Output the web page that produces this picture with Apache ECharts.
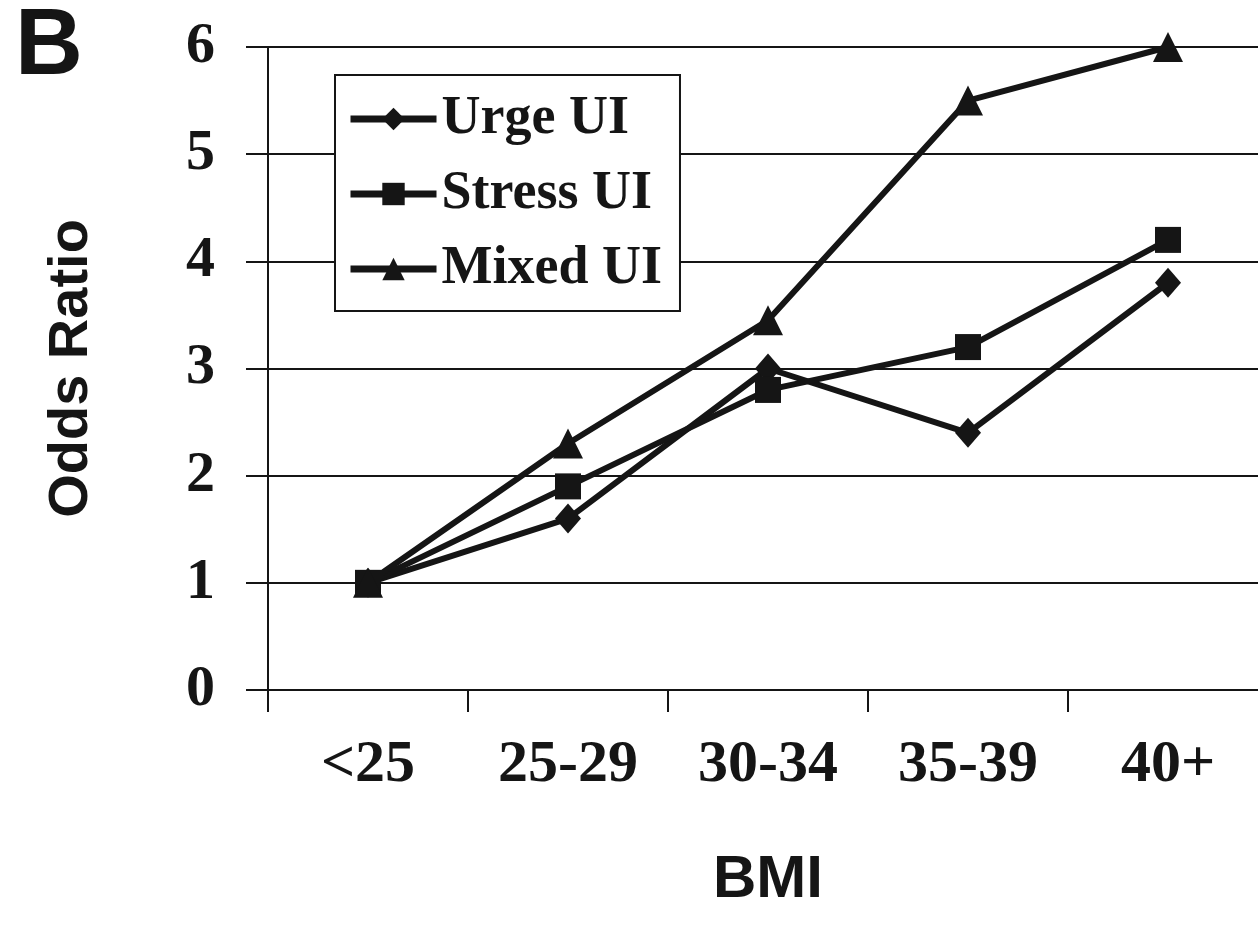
<!DOCTYPE html>
<html>
<head>
<meta charset="utf-8">
<script src="https://cdn.jsdelivr.net/npm/echarts@6/dist/echarts.min.js"></script>
<style>
  html, body { margin: 0; padding: 0; background: #fff; }
  #chart { width: 1258px; height: 937px; }
</style>
</head>
<body>
<div id="chart"></div>
<script>
const categories = ['<25', '25-29', '30-34', '35-39', '40+'];
const urgeUI = [1, 1.6, 3.0, 2.4, 3.8];
const stressUI = [1, 1.9, 2.8, 3.2, 4.2];
const mixedUI = [1, 2.3, 3.45, 5.5, 6.0];

const serif = 'Liberation Serif';
const sans = 'Liberation Sans';
const ink = '#151515';

const chart = echarts.init(document.getElementById('chart'));

function lineSeries(name, data, symbol, size) {
  return {
    name: name,
    type: 'line',
    data: data,
    symbol: symbol,
    symbolSize: size,
    showSymbol: true,
    lineStyle: { color: ink, width: 6 },
    itemStyle: { color: ink, borderWidth: 0 },
    emphasis: { disabled: true },
    z: 5
  };
}

chart.setOption({
  animation: false,
  backgroundColor: '#fff',
  title: {
    text: 'B',
    left: 10,
    top: -4,
    textStyle: { fontFamily: sans, fontWeight: 'bold', fontSize: 94, color: ink }
  },
  legend: {
    orient: 'vertical',
    left: 335,
    top: 75,
    padding: [16, 18, 14, 12],
    itemWidth: 86,
    itemHeight: 28,
    itemGap: 19,
    borderColor: ink,
    borderWidth: 2,
    backgroundColor: '#fff',
    lineStyle: { color: ink, width: 7 },
    textStyle: { fontFamily: serif, fontWeight: 'bold', fontSize: 54, color: ink, lineHeight: 56 },
    data: ['Urge UI', 'Stress UI', 'Mixed UI']
  },
  grid: { left: 268, top: 47, width: 1000, height: 643, containLabel: false, outerBoundsMode: 'none' },
  xAxis: {
    type: 'category',
    data: categories,
    boundaryGap: true,
    name: 'BMI',
    nameLocation: 'middle',
    nameGap: 160,
    nameTextStyle: { fontFamily: sans, fontWeight: 'bold', fontSize: 60, color: ink },
    axisLine: { lineStyle: { color: ink, width: 2 } },
    axisTick: { show: true, length: 22, lineStyle: { color: ink, width: 2 } },
    axisLabel: { margin: 45, fontFamily: serif, fontWeight: 'bold', fontSize: 60, color: ink },
    splitLine: { show: false }
  },
  yAxis: {
    type: 'value',
    min: 0,
    max: 6,
    interval: 1,
    name: 'Odds Ratio',
    nameLocation: 'middle',
    nameRotate: 90,
    nameGap: 168,
    nameTextStyle: { fontFamily: sans, fontWeight: 'bold', fontSize: 56, color: ink },
    axisLine: { show: true, lineStyle: { color: ink, width: 2 } },
    axisTick: { show: true, length: 22, lineStyle: { color: ink, width: 2 } },
    axisLabel: { margin: 53, fontFamily: serif, fontWeight: 'bold', fontSize: 58, color: ink },
    splitLine: { show: true, lineStyle: { color: ink, width: 2 } }
  },
  series: [
    lineSeries('Urge UI', urgeUI, 'diamond', [26, 30]),
    lineSeries('Stress UI', stressUI, 'rect', 26),
    lineSeries('Mixed UI', mixedUI, 'triangle', 30)
  ]
});
</script>
</body>
</html>
